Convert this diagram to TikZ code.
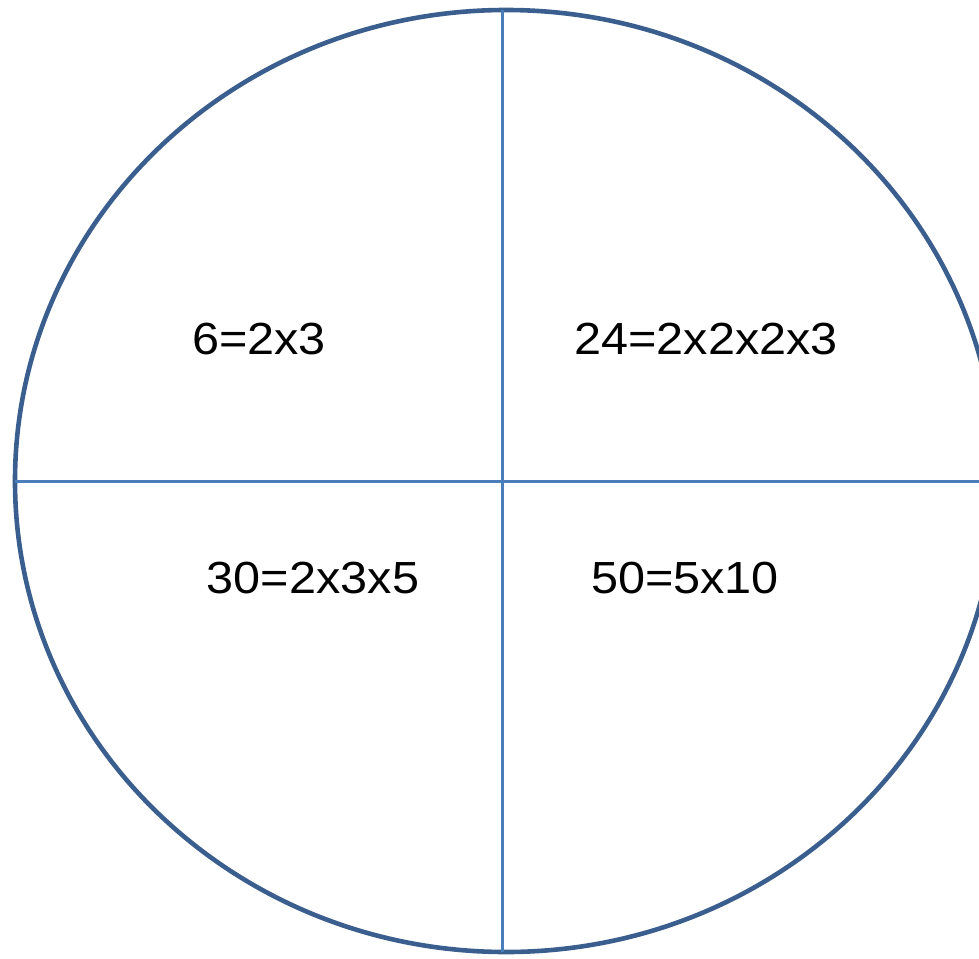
\documentclass[tikz,border=0pt]{standalone}
\usepackage{fontspec}
\setmainfont{Liberation Sans}
\newfontfamily\partfont[FakeStretch=1.08]{Liberation Sans}
\usetikzlibrary{positioning}
\definecolor{rimBlue}{HTML}{3A5F8E}
\definecolor{lineBlue}{HTML}{4A7EBB}

\begin{document}
\begin{tikzpicture}[x=1pt,y=-1pt,
  rim/.style={draw=rimBlue,line width=4.6pt},
  divider/.style={draw=lineBlue,line width=3pt},
  product/.style={inner sep=0pt,font=\partfont\fontsize{45}{45}\selectfont}]
  \useasboundingbox (0,0) rectangle (979,958);
  \draw[rim] (506,481) ellipse [x radius=491, y radius=471];

  \coordinate (top) at (502,10);
  \coordinate (bottom) at (502,952);
  \coordinate (left) at (15,481);
  \coordinate (right) at (997,481);
  \draw[divider] (top) -- (bottom);
  \draw[divider] (left) -- (right);

  \node[product] (six) at (259,339) {6=2x3};
  \node[product] (twentyfour) at (706,339) {24=2x2x2x3};
  \node[product] (thirty) at (313,578) {30=2x3x5};
  \node[product] (fifty) at (685,578) {50=5x10};
\end{tikzpicture}
\end{document}
